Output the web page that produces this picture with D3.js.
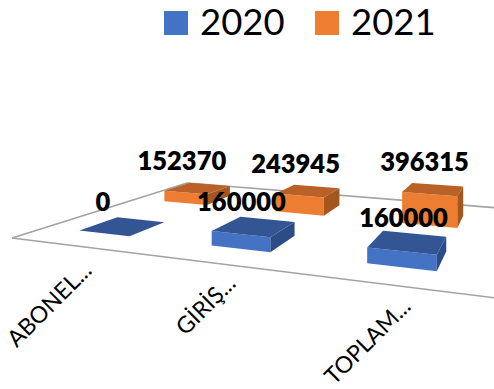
<!DOCTYPE html>
<html><head><meta charset="utf-8">
<style>html,body{margin:0;padding:0;background:#fff}svg{display:block}text{font-family:Lato,sans-serif;fill:#000}</style>
<script src="https://cdn.jsdelivr.net/npm/d3@7/dist/d3.min.js"></script>
</head><body><svg id="c" width="494" height="389"></svg>
<script>
const categories = ["ABONEL...", "GİRİŞ...", "TOPLAM..."];
const seriesNames = ["2020", "2021"];
const values2020 = [0, 160000, 160000];
const values2021 = [152370, 243945, 396315];
const seriesValues = [values2020, values2021];
const frontColors = ["#4472C4", "#ED7D31"];
const topColors = ["#335593", "#B96127"];
const sideColors = ["#2C4C88", "#A4561F"];

const svg = d3.select("#c");

// floor homography: unit square -> screen quad
const P = [[12,238],[520,301],[524,210],[187,183]];
const [x0,y0]=P[0],[x1,y1]=P[1],[x2,y2]=P[2],[x3,y3]=P[3];
const dx1=x1-x2,dx2=x3-x2,sx=x0-x1+x2-x3,dy1=y1-y2,dy2=y3-y2,sy=y0-y1+y2-y3;
const den=dx1*dy2-dx2*dy1;
const g=(sx*dy2-dx2*sy)/den,h=(dx1*sy-sx*dy1)/den;
const a=x1-x0+g*x1,b=x3-x0+h*x3,d=y1-y0+g*y1,e=y3-y0+h*y3;
const project=(u,v)=>{const w=g*u+h*v+1;return {x:(a*u+b*v+x0)/w,y:(d*u+e*v+y0)/w,s:1/w};};

const uScale=d3.scaleBand().domain(categories).range([-0.012,0.954]);
const vScale=d3.scaleBand().domain(seriesNames).range([0,0.96]);
const hScale=d3.scaleLinear().domain([0,400000]).range([0,35.5]);
const barU=0.128, barV=0.19;

// walls / floor lines
const line=d3.line().x(p=>p.x).y(p=>p.y);
const edges=[[[0,0],[0,1]],[[0,1],[1,1]],[[0,0],[1,0]]];
svg.selectAll("path.edge").data(edges).join("path").attr("class","edge")
  .attr("d",e=>line(e.map(q=>project(q[0],q[1]))))
  .attr("fill","none").attr("stroke","#a3a3a3").attr("stroke-width",1.6);

// bars, back series first
const poly=d3.line().x(p=>p[0]).y(p=>p[1]).curve(d3.curveLinearClosed);
const labels=[];
[1,0].forEach(si=>{
  const name=seriesNames[si];
  categories.forEach((cat,ci)=>{
    const val=seriesValues[si][ci];
    const uc=uScale(cat)+uScale.bandwidth()/2, vc=vScale(name)+vScale.bandwidth()/2;
    const u0=uc-barU/2,u1=uc+barU/2,v0=vc-barV/2,v1=vc+barV/2;
    const base=(u,v)=>{const p=project(u,v);return [p.x,p.y];};
    const top=(u,v)=>{const p=project(u,v);return [p.x,p.y-hScale(val)*p.s];};
    const G=svg.append("g");
    if(val>0){
      G.append("path").attr("d",poly([base(u0,v0),base(u1,v0),top(u1,v0),top(u0,v0)])).attr("fill",frontColors[si]);
      G.append("path").attr("d",poly([base(u1,v0),base(u1,v1),top(u1,v1),top(u1,v0)])).attr("fill",sideColors[si]);
    }
    G.append("path").attr("d",poly([top(u0,v0),top(u1,v0),top(u1,v1),top(u0,v1)])).attr("fill",topColors[si]);
    const tc=top(uc,vc);
    labels.push({val,x:tc[0]+(si?-22+0.03*tc[0]:-27+0.055*tc[0]),y:tc[1]-(si?18:15)});
  });
});

svg.selectAll("text.val").data(labels).join("text").attr("class","val")
  .attr("x",l=>l.x).attr("y",l=>l.y).attr("text-anchor","middle")
  .attr("font-size",25.5).attr("font-weight",800).text(l=>l.val);

// category labels
const labelX=d3.scaleOrdinal(categories,[93,237,412]);
const labelY=d3.scaleOrdinal(categories,[272,285,308]);
svg.selectAll("text.cat").data(categories).join("text").attr("class","cat")
  .attr("transform",c=>`translate(${labelX(c)},${labelY(c)}) rotate(-45)`)
  .attr("text-anchor","end").attr("font-size",23).text(c=>c);

// legend
const legX=d3.scalePoint().domain(seriesNames).range([164,315]);
const leg=svg.selectAll("g.leg").data(seriesNames).join("g").attr("class","leg")
  .attr("transform",s=>`translate(${legX(s)},11)`);
leg.append("rect").attr("width",24).attr("height",24).attr("fill",(s,i)=>frontColors[i]);
leg.append("text").attr("x",36).attr("y",24).attr("font-size",36.5).text(s=>s);
</script></body></html>
